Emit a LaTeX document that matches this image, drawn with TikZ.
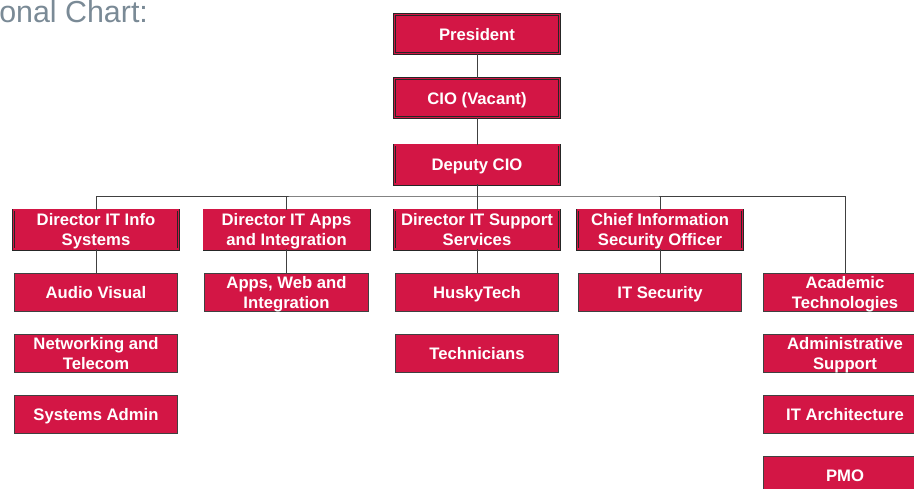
\documentclass[tikz,border=0pt]{standalone}
\usepackage{fontspec}
\setmainfont{Liberation Sans}
\definecolor{boxred}{HTML}{D31645}
\definecolor{titlegray}{HTML}{7A8A96}
\definecolor{linegray}{HTML}{404040}
\tikzset{
  headbox/.style={rectangle, draw=black!85, double=boxred, double distance=1.1pt,
    line width=.45pt, fill=boxred, text=white, align=center, inner sep=0,
    minimum width=124pt, minimum height=29.5pt, text depth=0pt,
    font=\fontsize{12.5}{15}\selectfont\bfseries},
  staffbox/.style={rectangle, draw=linegray, line width=.7pt, fill=boxred,
    text=white, align=center, inner sep=0,
    minimum width=122.5pt, minimum height=28.5pt, text depth=0pt,
    font=\fontsize{12.5}{15}\selectfont\bfseries},
  conn/.style={draw=linegray, line width=.75pt}
}

\begin{document}
\begin{tikzpicture}[x=.75pt,y=-.75pt]
\clip (0,0) rectangle (914,489);
\node[anchor=base west, inner sep=0, text=titlegray,
  font=\fontsize{22.8}{27}\selectfont] (title) at (-1,22) {onal Chart:};
% top of the chart
\node[headbox] (pres) at (477,34) {President};
\node[headbox] (cio) at (477,98) {CIO (Vacant)};
\node[headbox] (dep) at (477,164.5) {Deputy CIO};
% directors
\node[headbox] (dis) at (96,229.5) {Director IT Info\\Systems};
\node[headbox] (dapps) at (286.5,229.5) {Director IT Apps\\and Integration};
\node[headbox] (dsup) at (477,229.5) {Director IT Support\\Services};
\node[headbox] (ciso) at (660,229.5) {Chief Information\\Security Officer};
% staff
\node[staffbox] (av) at (96,292) {Audio Visual};
\node[staffbox] (net) at (96,353) {Networking and\\Telecom};
\node[staffbox] (sysad) at (96,414) {Systems Admin};
\node[staffbox] (apps) at (286.5,292) {Apps, Web and\\Integration};
\node[staffbox] (husky) at (477,292) {HuskyTech};
\node[staffbox] (tech) at (477,353.5) {Technicians};
\node[staffbox] (itsec) at (660,292) {IT Security};
\node[staffbox] (acad) at (845,292) {Academic\\Technologies};
\node[staffbox] (admin) at (845,353.5) {Administrative\\Support};
\node[staffbox] (arch) at (845,414.5) {IT Architecture};
\node[staffbox] (pmo) at (845,475.5) {PMO};
% connectors
\coordinate (bus) at (477,196);
\draw[conn] (pres) -- (cio);
\draw[conn] (cio) -- (dep);
\draw[conn] (dep) -- (bus);
\draw[conn] (dis.north) |- (bus) -| (acad.north);
\foreach \d in {dapps,dsup,ciso}
  \draw[conn] (\d.north) -- (\d.north |- bus);
\draw[conn] (dis) -- (av);
\draw[conn] (dapps) -- (apps);
\draw[conn] (dsup) -- (husky);
\draw[conn] (ciso) -- (itsec);
\end{tikzpicture}
\end{document}
